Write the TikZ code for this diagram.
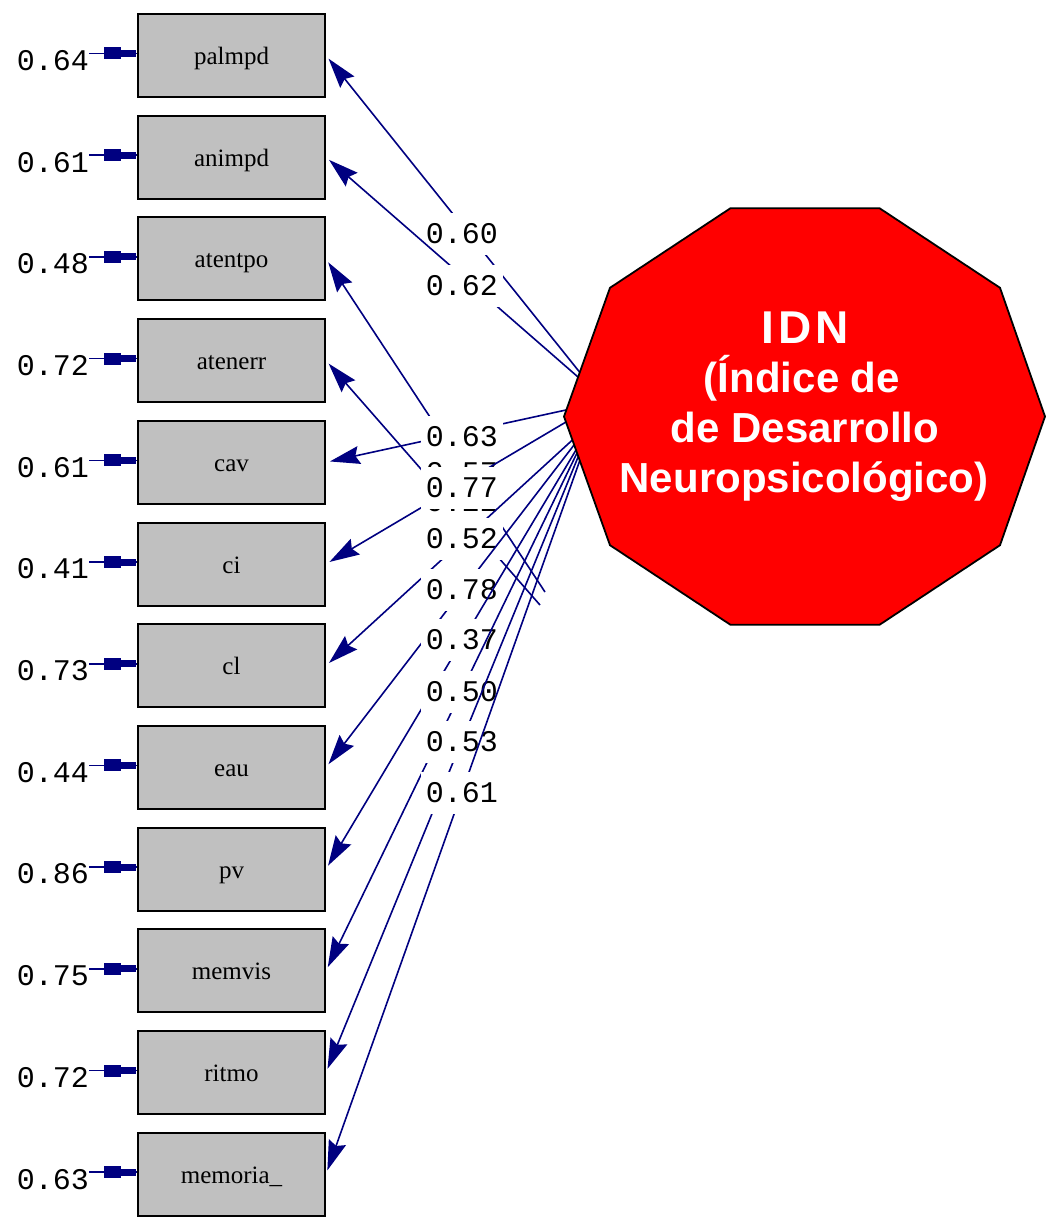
\documentclass[tikz,border=0pt]{standalone}
\usepackage{fontspec}
\setmainfont{Liberation Serif}
\newfontfamily\lmono{Liberation Mono}
\newfontfamily\lsans{Liberation Sans}
\usetikzlibrary{arrows.meta,calc}
\definecolor{pathblue}{RGB}{0,0,128}
\definecolor{boxgray}{RGB}{192,192,192}
\definecolor{idnred}{RGB}{255,0,0}
\begin{document}
\begin{tikzpicture}[x=1pt,y=-1pt,
  obs/.style={draw=black, line width=2pt, fill=boxgray, minimum width=187pt, minimum height=83pt, inner sep=0pt, text height=22pt, text depth=4pt, font=\fontsize{25}{25}\selectfont},
  lab/.style={fill=white, inner sep=0pt, minimum width=82pt, minimum height=42pt, font=\lmono\fontsize{30}{30}\selectfont},
  errlab/.style={inner sep=0pt, anchor=east, font=\lmono\fontsize{30}{30}\selectfont},
  load/.style={draw=pathblue, line width=1.6pt, -{Stealth[length=30pt,width=18pt,inset=4pt]}, shorten >=4pt},
  errline/.style={draw=pathblue, line width=1.6pt},
  idntext/.style={text=white, font=\lsans\bfseries\fontsize{42}{42}\selectfont, anchor=base, inner sep=0pt}
]
\useasboundingbox (0,0) rectangle (1046,1223);

% observed variables
\foreach \name [count=\i from 0] in {palmpd,animpd,atentpo,atenerr,cav,ci,cl,eau,pv,memvis,ritmo,memoria\_}{
  \node[obs] (b\i) at (231.5,55.5+101.7*\i) {\name};
}

% error terms
\foreach \v [count=\i from 0] in {0.64,0.61,0.48,0.72,0.61,0.41,0.73,0.44,0.86,0.75,0.72,0.63}{
  \node[errlab] (e\i) at (89,60.5+101.7*\i) {\v};
  \draw[errline] ($(e\i.east |- b\i.west)+(0,-2)$) -- ($(b\i.west)+(0,-2)$);
  \fill[pathblue] ($(b\i.west)+(-33,-8)$) rectangle ($(b\i.west)+(-16,4)$);
  \fill[pathblue] ($(b\i.west)+(-17,-5.5)$) rectangle ($(b\i.west)+(-1,1.5)$);
}

% start points of the loadings on the latent variable
\coordinate (s0) at (579.5,372);
\coordinate (s1) at (578,377);
\coordinate (s2) at (545,592);
\coordinate (s3) at (540,605);
\coordinate (s4) at (566,410);
\coordinate (s5) at (566,422);
\coordinate (s6) at (572.4,440);
\coordinate (s7) at (574,445);
\coordinate (s8) at (576,450);
\coordinate (s9) at (577,453);
\coordinate (s10) at (578.5,456);
\coordinate (s11) at (580,460);

% loadings with their labels
\foreach \i/\v/\ly in {0/0.60/233.5, 1/0.62/285.5, 2/0.57/473, 3/0.22/502, 4/0.63/437, 5/0.77/488, 6/0.52/539, 7/0.78/590, 8/0.37/640, 9/0.50/692, 10/0.53/742, 11/0.61/793}{
  \draw[load] (s\i) -- (b\i.east);
  \node[lab] (l\i) at (462,\ly) {\v};
}

% latent variable
\draw[line width=1.8pt, fill=idnred, line join=miter]
  (1045,416.5) -- (1000,287.8) -- (879.5,208.2) -- (730.5,208.2) -- (610,287.8)
  -- (564,416.5) -- (610,545.2) -- (730.5,624.8) -- (879.5,624.8) -- (1000,545.2) -- cycle;
\node[idntext, font=\lsans\bfseries\fontsize{46}{46}\selectfont] (idn1) at (805,343) {I\kern4pt D\kern4pt N};
\node[idntext] (idn2) at (802,392) {(Índice de};
\node[idntext] (idn3) at (805,442) {de Desarrollo};
\node[idntext] (idn4) at (804,492) {Neuropsicológico)};
\end{tikzpicture}
\end{document}
